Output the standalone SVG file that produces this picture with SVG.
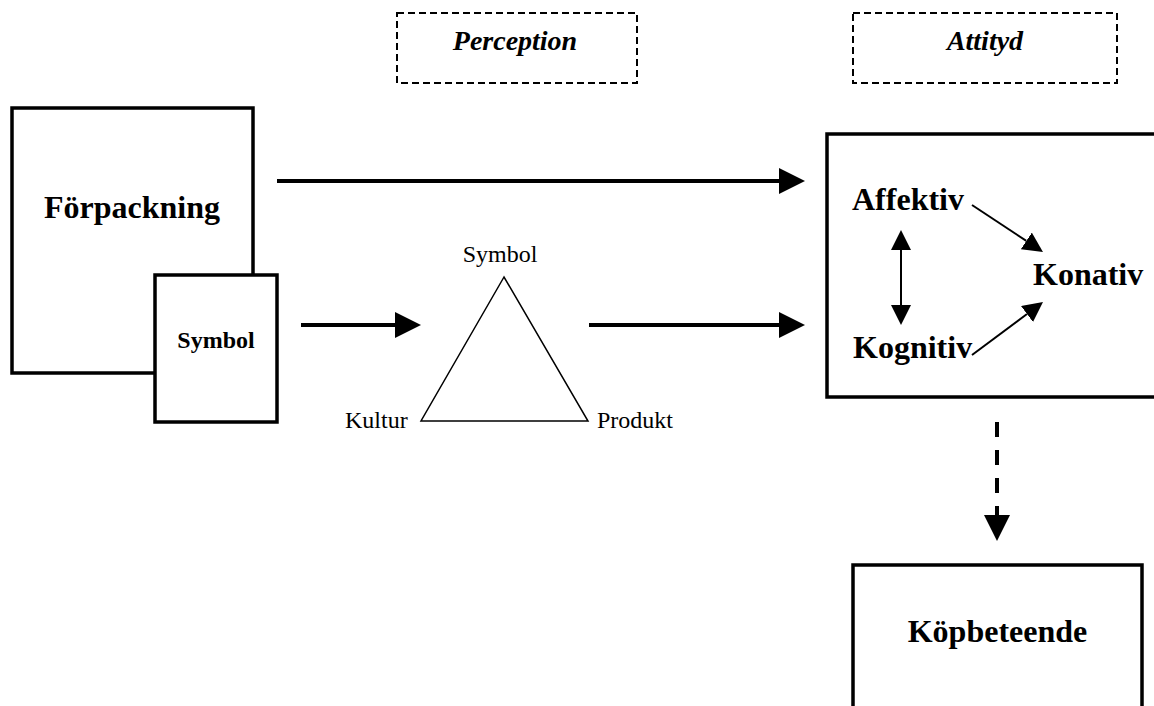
<svg xmlns="http://www.w3.org/2000/svg" width="1154" height="706" viewBox="0 0 1154 706">
<style>
.box{fill:#fff;stroke:#000;stroke-width:3.5}
.dbox{fill:none;stroke:#000;stroke-width:2;stroke-dasharray:7 4}
.bt{font-family:"Liberation Serif","Times New Roman",serif;font-weight:bold;fill:#000}
.it{font-family:"Liberation Serif","Times New Roman",serif;font-weight:bold;font-style:italic;font-size:28px;fill:#000}
.rt{font-family:"Liberation Serif","Times New Roman",serif;font-size:24px;fill:#000}
.thick{stroke:#000;stroke-width:4;fill:none}
.thin{stroke:#000;stroke-width:2;fill:none}
</style>
<defs>
<marker id="big" markerUnits="userSpaceOnUse" markerWidth="26" markerHeight="26" viewBox="0 0 26 26" refX="0" refY="13" orient="auto"><path d="M0,0 L26,13 L0,26 z" fill="#000"/></marker>
<marker id="small" markerUnits="userSpaceOnUse" markerWidth="20" markerHeight="20" viewBox="0 0 20 20" refX="0" refY="10" orient="auto-start-reverse"><path d="M0,0 L20,10 L0,20 z" fill="#000"/></marker>
</defs>
<g id="perception">
<rect class="dbox" x="397" y="13" width="240" height="70"/>
<text class="it" x="515" y="50" text-anchor="middle">Perception</text>
</g>
<g id="attityd-label">
<rect class="dbox" x="853" y="13" width="264" height="70"/>
<text class="it" x="985" y="50" text-anchor="middle">Attityd</text>
</g>
<g id="forpackning">
<rect class="box" x="12" y="108" width="241" height="265"/>
<text class="bt" x="132" y="218" font-size="32" text-anchor="middle">Förpackning</text>
</g>
<g id="symbol-box">
<rect class="box" x="155" y="275" width="122" height="147"/>
<text class="bt" x="216" y="348" font-size="24" text-anchor="middle">Symbol</text>
</g>
<g id="triangle">
<polygon points="504,277 421,421 588,421" fill="none" stroke="#000" stroke-width="1.5"/>
<text class="rt" x="500" y="262" text-anchor="middle">Symbol</text>
<text class="rt" x="345" y="428">Kultur</text>
<text class="rt" x="597" y="428">Produkt</text>
</g>
<g id="attityd">
<rect class="box" x="827" y="134" width="335" height="263"/>
<text class="bt" x="852" y="210" font-size="32">Affektiv</text>
<text class="bt" x="1033" y="285" font-size="32">Konativ</text>
<text class="bt" x="853" y="358" font-size="32">Kognitiv</text>
</g>
<g id="kopbeteende">
<rect class="box" x="853" y="565" width="289" height="160"/>
<text class="bt" x="997.5" y="642" font-size="32" text-anchor="middle">Köpbeteende</text>
</g>
<g id="connectors">
<line class="thick" x1="277" y1="181" x2="779" y2="181" marker-end="url(#big)"/>
<line class="thick" x1="301" y1="325" x2="395" y2="325" marker-end="url(#big)"/>
<line class="thick" x1="589" y1="325" x2="779" y2="325" marker-end="url(#big)"/>
<line class="thin" x1="972" y1="205" x2="1026.3" y2="240.9" marker-end="url(#small)"/>
<line class="thin" x1="972" y1="355" x2="1027" y2="314" marker-end="url(#small)"/>
<line class="thin" x1="901" y1="250" x2="901" y2="305" marker-start="url(#small)" marker-end="url(#small)"/>
<line class="thick" x1="997" y1="422" x2="997" y2="515" stroke-dasharray="15 13" marker-end="url(#big)"/>
</g>
</svg>
